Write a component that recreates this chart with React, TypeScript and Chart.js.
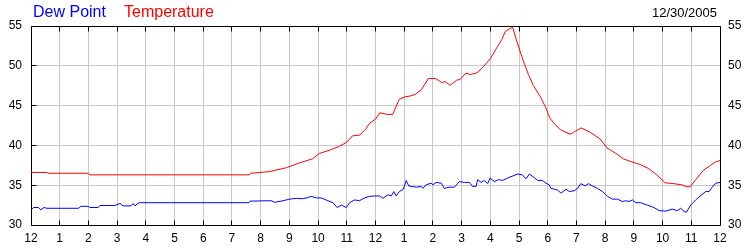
import React, { useEffect, useRef } from "react";
import { Chart, registerables } from "chart.js";

Chart.register(...registerables);

const xTickLabels = ["12","1","2","3","4","5","6","7","8","9","10","11","12","1","2","3","4","5","6","7","8","9","10","11","12"];
const dateText = "12/30/2005";

const tempHours = [0,0.55,0.6,2.0,2.05,7.6,7.65,8.3,8.9,9.35,9.8,10.05,10.4,10.75,11.0,11.2,11.45,11.65,11.8,12.0,12.15,12.4,12.6,12.83,13.03,13.2,13.38,13.6,13.84,14.1,14.3,14.43,14.6,14.83,14.95,15.15,15.3,15.53,15.76,16.0,16.23,16.4,16.52,16.69,16.78,16.92,17.15,17.33,17.5,17.73,17.91,18.08,18.26,18.43,18.78,18.9,19.16,19.48,19.83,20.06,20.35,20.64,20.87,21.22,21.51,21.8,22.09,22.38,22.67,22.85,22.96,23.2,23.43,23.66,23.83,24.0];
const tempValues = [36.6,36.6,36.5,36.5,36.3,36.3,36.5,36.7,37.2,37.8,38.3,39.0,39.4,39.9,40.4,41.2,41.3,42.0,42.8,43.3,44.1,43.9,43.9,45.8,46.1,46.2,46.4,47.0,48.4,48.4,47.9,48.0,47.55,48.2,48.3,49.1,48.9,49.1,49.9,50.9,52.3,53.3,54.3,54.7,54.8,53.1,50.6,48.9,47.5,46.2,44.9,43.4,42.6,42.0,41.4,41.65,42.2,41.65,40.8,39.7,39.05,38.3,38.0,37.6,37.1,36.3,35.3,35.2,35.05,34.8,34.8,35.9,36.9,37.45,37.9,38.1];

const dewHours = [0,0.09,0.26,0.34,0.45,0.55,1.65,1.74,1.99,2.05,2.34,2.4,2.92,3.1,3.21,3.48,3.56,3.62,3.73,3.79,7.59,7.63,8.37,8.49,8.78,9.01,9.24,9.47,9.65,9.76,9.94,10.11,10.34,10.52,10.66,10.81,10.98,11.1,11.27,11.44,11.62,11.79,11.97,12.14,12.26,12.43,12.55,12.64,12.72,12.83,12.97,13.07,13.16,13.24,13.42,13.59,13.65,13.76,13.94,14.0,14.11,14.29,14.4,14.57,14.75,14.92,15.1,15.27,15.38,15.5,15.56,15.68,15.79,15.91,15.99,16.14,16.29,16.43,16.6,16.95,17.12,17.24,17.36,17.53,17.65,17.82,17.94,18.05,18.11,18.23,18.34,18.46,18.64,18.75,18.92,19.04,19.15,19.3,19.42,19.56,19.73,19.91,20.08,20.25,20.43,20.6,20.72,20.83,20.95,21.07,21.24,21.47,21.7,21.88,22.11,22.34,22.51,22.63,22.75,22.83,22.98,23.15,23.33,23.5,23.62,23.73,23.85,24.0];
const dewValues = [31.9,32.2,32.2,31.9,32.2,32.1,32.1,32.35,32.35,32.2,32.2,32.45,32.45,32.7,32.4,32.4,32.7,32.4,32.75,32.8,32.8,33.0,33.05,32.85,33.05,33.25,33.35,33.3,33.45,33.6,33.4,33.4,33.05,32.8,32.2,32.5,32.2,32.8,33.15,33.05,33.4,33.6,33.65,33.65,33.35,33.8,33.65,34.2,33.65,34.2,34.5,35.6,34.9,34.85,34.75,34.85,34.6,35.05,35.25,35.05,35.35,35.25,34.6,34.75,34.75,35.45,35.35,35.35,34.85,34.85,35.7,35.35,35.6,35.2,35.9,35.45,35.7,35.6,35.9,36.4,36.3,35.8,36.4,35.95,35.6,35.6,35.25,35.05,34.6,34.5,34.4,34.0,34.5,34.2,34.3,34.6,35.2,34.9,35.2,34.9,34.6,34.2,33.6,33.25,33.25,32.95,33.05,32.95,33.15,32.8,32.8,32.5,32.2,31.8,31.75,32.0,31.8,32.1,31.7,31.6,32.5,33.15,33.7,34.2,34.2,34.75,35.25,35.35];

const FONT = "'Liberation Sans', Arial, sans-serif";

const framePlugin = {
  id: "frameTicks",
  beforeDatasetsDraw(chart: any) {
    const { ctx, chartArea } = chart;
    const xs = chart.scales.x;
    const ys = chart.scales.y;
    const a = (v: number) => Math.floor(v) + 0.5;
    ctx.save();
    ctx.strokeStyle = "#000";
    ctx.lineWidth = 1;
    ctx.beginPath();
    const L = a(chartArea.left), R = a(chartArea.right), T = a(chartArea.top), B = a(chartArea.bottom);
    ctx.moveTo(L, T); ctx.lineTo(R, T); ctx.lineTo(R, B); ctx.lineTo(L, B); ctx.closePath();
    xs.ticks.forEach((t: any) => {
      const px = a(xs.getPixelForValue(t.value));
      ctx.moveTo(px, T); ctx.lineTo(px, T + 5);
      ctx.moveTo(px, B); ctx.lineTo(px, B - 5);
    });
    ys.ticks.forEach((t: any) => {
      const py = a(ys.getPixelForValue(t.value));
      ctx.moveTo(L, py); ctx.lineTo(L + 5, py);
    });
    ctx.stroke();
    ctx.restore();
  },
  afterDraw(chart: any) {
    const { ctx } = chart;
    const ds = chart.data.datasets;
    ctx.save();
    ctx.textBaseline = "alphabetic";
    ctx.font = `16px ${FONT}`;
    ctx.textAlign = "left";
    ctx.fillStyle = ds[0].borderColor;
    ctx.fillText(ds[0].label, 33, 17);
    ctx.fillStyle = ds[1].borderColor;
    ctx.fillText(ds[1].label, 124, 17);
    ctx.font = `13px ${FONT}`;
    ctx.fillStyle = "#000";
    ctx.textAlign = "right";
    ctx.fillText(dateText, 717, 17);
    ctx.restore();
  },
};

export default function App() {
  const ref = useRef<HTMLCanvasElement>(null);
  useEffect(() => {
    document.body.style.margin = "0";
    const chart = new Chart(ref.current!, {
      type: "line",
      data: {
        datasets: [
          {
            label: "Dew Point",
            data: dewHours.map((h, i) => ({ x: h, y: dewValues[i] })),
            borderColor: "#0000ff",
            borderWidth: 1,
            pointRadius: 0,
            tension: 0,
            yAxisID: "y",
          },
          {
            label: "Temperature",
            data: tempHours.map((h, i) => ({ x: h, y: tempValues[i] })),
            borderColor: "#ff0000",
            borderWidth: 1,
            pointRadius: 0,
            tension: 0,
            yAxisID: "y",
          },
        ],
      },
      options: {
        responsive: false,
        animation: false,
        events: [],
        layout: { padding: { top: 26, left: 0, right: 0, bottom: 0 } },
        plugins: { legend: { display: false }, tooltip: { enabled: false }, title: { display: false } },
        scales: {
          x: {
            type: "linear",
            min: 0,
            max: 24,
            afterFit: (s: any) => { s.height = 25; },
            grid: { color: "#c8c8c8", drawTicks: false },
            border: { display: false },
            ticks: {
              stepSize: 1,
              autoSkip: false,
              maxRotation: 0,
              padding: 6,
              color: "#000",
              font: { family: FONT, size: 12 },
              callback: (v: any) => xTickLabels[v as number],
            },
          },
          y: {
            position: "left",
            min: 30,
            max: 55,
            afterFit: (s: any) => { s.width = 31; },
            grid: { color: "#c8c8c8", drawTicks: false },
            border: { display: false },
            ticks: { stepSize: 5, padding: 9, color: "#000", font: { family: FONT, size: 12 } },
          },
          y2: {
            position: "right",
            min: 30,
            max: 55,
            afterFit: (s: any) => { s.width = 30; },
            grid: { display: false, drawTicks: false },
            border: { display: false },
            ticks: { stepSize: 5, padding: 8, color: "#000", font: { family: FONT, size: 12 } },
          },
        },
      },
      plugins: [framePlugin],
    } as any);
    return () => chart.destroy();
  }, []);
  return (
    <div style={{ width: 750, height: 250 }}>
      <canvas ref={ref} width={750} height={250} />
    </div>
  );
}
